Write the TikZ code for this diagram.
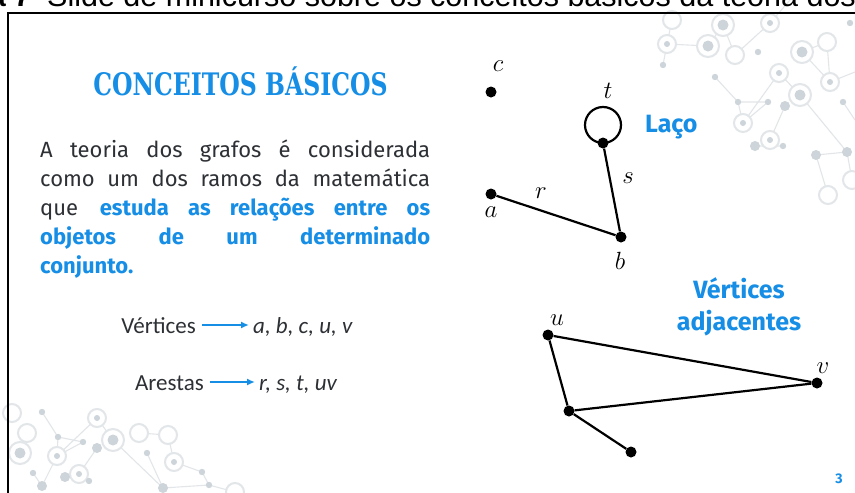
\documentclass[tikz,border=0pt]{standalone}
\usepackage{fontspec}
\setmainfont{Fira Sans}
\newfontfamily\capfont{Liberation Sans}
\newfontfamily\titlefont{DejaVu Serif}
\newfontfamily\calfont{Carlito}
\definecolor{slideblue}{RGB}{22,142,230}
\definecolor{bodygray}{RGB}{45,48,52}
\definecolor{declin}{RGB}{226,230,233}
\definecolor{decdot}{RGB}{205,212,218}
\tikzset{
  vtx/.style={circle,fill=black,inner sep=0pt,minimum size=11pt},
  edg/.style={line width=2.2pt,black},
  mlab/.style={inner sep=0pt,font=\fontsize{27}{27}\selectfont},
  bluebold/.style={text=slideblue,font=\fontsize{25}{32}\selectfont\bfseries,inner sep=0pt},
  dl/.style={draw=declin,line width=1.1pt},
  dd/.style={fill=decdot},
  dr/.style={draw=declin,line width=2pt,fill=white},
  blarrow/.style={draw=slideblue,line width=1.6pt,-{Latex[length=8pt,width=7pt]}}
}
\usetikzlibrary{arrows.meta}
\begin{document}
\begin{tikzpicture}[x=1pt,y=-1pt]
\useasboundingbox (0,0) rectangle (855,493);
\clip (0,0) rectangle (855,493);
\fill[white] (0,0) rectangle (855,493);
% ---- decorative network top right
\begin{scope}
\draw[dl] (667,44)--(708,46) (667,44)--(663,65) (723,25)--(735,55) (735,55)--(770,23)
 (715,77)--(738,102) (779,73)--(743,123) (738,102)--(743,123) (738,102)--(768,102)
 (800,95)--(779,73) (800,95)--(847,152) (785,106)--(770,140) (755,146)--(783,146)
 (816,155)--(847,152) (816,155)--(828,195) (802,52)--(830,82) (830,82)--(855,72)
 (827,42)--(830,82) (843,102)--(855,120) (847,152)--(852,180) (672,20)--(667,44)
 (770,23)--(790,0) (802,52)--(827,42) (708,46)--(723,25) (743,123)--(768,102);
\foreach \p in {(672,20),(735,55),(827,42),(852,180),(828,195)} \draw[dr] \p circle (9pt);
\foreach \p in {(770,23),(779,73),(830,82),(743,123),(770,140),(667,44)} {\draw[dr] \p circle (9pt); \fill[decdot] \p circle (3pt);}
\foreach \p in {(723,25),(708,46),(802,52),(800,95)} {\draw[dr] \p circle (11pt); \fill[decdot] \p circle (5.5pt);}
\foreach \p in {(663,65),(715,77),(738,102),(768,102),(843,102),(783,146),(758,52),(850,23)} \fill[decdot] \p circle (3.2pt);
\foreach \p in {(785,106),(755,146),(816,155),(847,152)} \fill[decdot] \p circle (5pt);
\end{scope}
% ---- decorative network bottom left
\begin{scope}
\draw[dl] (42,412)--(58,437) (58,437)--(57,456) (58,437)--(83,442) (97,418)--(57,456)
 (57,456)--(83,442) (97,418)--(113,440) (113,440)--(163,488) (139,433)--(168,435)
 (168,435)--(174,462) (174,462)--(202,472) (202,472)--(209,485) (147,453)--(163,488)
 (163,488)--(209,485) (97,448)--(79,474) (65,477)--(79,474) (79,474)--(89,481)
 (33,473)--(42,486) (42,486)--(57,456) (27,433)--(20,453) (209,485)--(235,492);
\foreach \p in {(12,413),(27,433),(139,433),(168,435),(235,492)} \draw[dr] \p circle (9pt);
\foreach \p in {(97,418),(57,456),(174,462),(79,474)} {\draw[dr] \p circle (9pt); \fill[decdot] \p circle (3pt);}
\foreach \p in {(113,440),(20,453)} {\draw[dr] \p circle (11pt); \fill[decdot] \p circle (5.5pt);}
\foreach \p in {(42,412),(58,437),(83,442),(147,453),(33,473),(89,481),(202,472),(209,485)} \fill[decdot] \p circle (3.2pt);
\foreach \p in {(97,448),(65,477),(42,486),(163,488)} \fill[decdot] \p circle (5pt);
\end{scope}
% ---- caption (cut off at top, as in the reference)
\node[anchor=base east,inner sep=0pt,font=\capfont\bfseries\fontsize{30}{30}\selectfont] (capa) at (31,6.5) {Figura 7};
\node[anchor=base west,inner sep=0pt,font=\capfont\fontsize{30.5}{30}\selectfont] (capb) at (47,6.5) {Slide de minicurso sobre os conceitos básicos da teoria dos grafos};
% ---- slide frame
\draw[line width=2pt,black] (8,494) -- (8,12.5) -- (856,12.5);
% ---- title
\node[inner sep=0pt,text=slideblue,font=\titlefont\bfseries\fontsize{31}{31}\selectfont] (title) at (240.5,81) {\scalebox{0.76}[1]{CONCEITOS BÁSICOS}};
% ---- body
\node[anchor=north west,inner sep=0pt,text=bodygray,font=\fontsize{22}{29}\selectfont,align=left] (body) at (40,140) {%
\makebox[390pt][s]{A teoria dos grafos é considerada}\\
\makebox[390pt][s]{como um dos ramos da matemática}\\
\makebox[390pt][s]{que \textcolor{slideblue}{\bfseries estuda as relações entre os}}\\
\makebox[390pt][s]{\textcolor{slideblue}{\bfseries objetos de um determinado}}\\
{\color{slideblue}\bfseries conjunto.}};
% ---- vertices / arestas
\node[anchor=base east,inner sep=0pt,text=bodygray,font=\calfont\fontsize{23}{23}\selectfont] (vt) at (196,333) {Vértices};
\coordinate (vtA) at (202,325);
\node[anchor=base west,inner sep=0pt,text=bodygray,font=\calfont\itshape\fontsize{23}{23}\selectfont] (vtl) at (253,333) {a, b, c, u, v};
\draw[blarrow,shorten >=4pt] (vtA) -- (vtl.west |- vtA);
\node[anchor=base east,inner sep=0pt,text=bodygray,font=\calfont\fontsize{23}{23}\selectfont] (ar) at (204,390) {Arestas};
\coordinate (arA) at (210,382);
\node[anchor=base west,inner sep=0pt,text=bodygray,font=\calfont\itshape\fontsize{23}{23}\selectfont] (arl) at (259,390) {r, s, t, uv};
\draw[blarrow,shorten >=4pt] (arA) -- (arl.west |- arA);
% ---- graph 1
\node[vtx] (c) at (491,92) {};
\node[mlab] (cl) at (498,66) {$c$};
\node[vtx] (t) at (603,143) {};
\draw[edg] (603,125) circle (18pt);
\node[mlab] (tl) at (608,91) {$t$};
\node[vtx] (a) at (491,194) {};
\node[mlab] (al) at (491,212) {$a$};
\node[vtx] (b) at (621,237) {};
\node[mlab] (bl) at (620,261) {$b$};
\draw[edg] (a) -- (b);
\draw[edg] (t) -- (b);
\node[mlab] (rl) at (541,193) {$r$};
\node[mlab] (sl) at (628,178) {$s$};
\node[bluebold,anchor=west] (laco) at (645,127) {Laço};
% ---- graph 2
\node[vtx] (u) at (548,335) {};
\node[mlab,font=\fontsize{24}{24}\selectfont] (ul) at (557,320) {$u$};
\node[vtx] (v) at (817,383) {};
\node[mlab,font=\fontsize{24}{24}\selectfont] (vl) at (823,368) {$v$};
\node[vtx] (w) at (569,411) {};
\node[vtx] (x) at (631,452) {};
\draw[edg] (u) -- (v);
\draw[edg] (u) -- (w);
\draw[edg] (w) -- (v);
\draw[edg] (w) -- (x);
\node[bluebold,align=center] (adj) at (739,307) {Vértices\\adjacentes};
\node[text=slideblue,inner sep=0pt,font=\fontsize{14}{14}\selectfont\bfseries] (pg) at (839,479) {3};
\end{tikzpicture}
\end{document}
